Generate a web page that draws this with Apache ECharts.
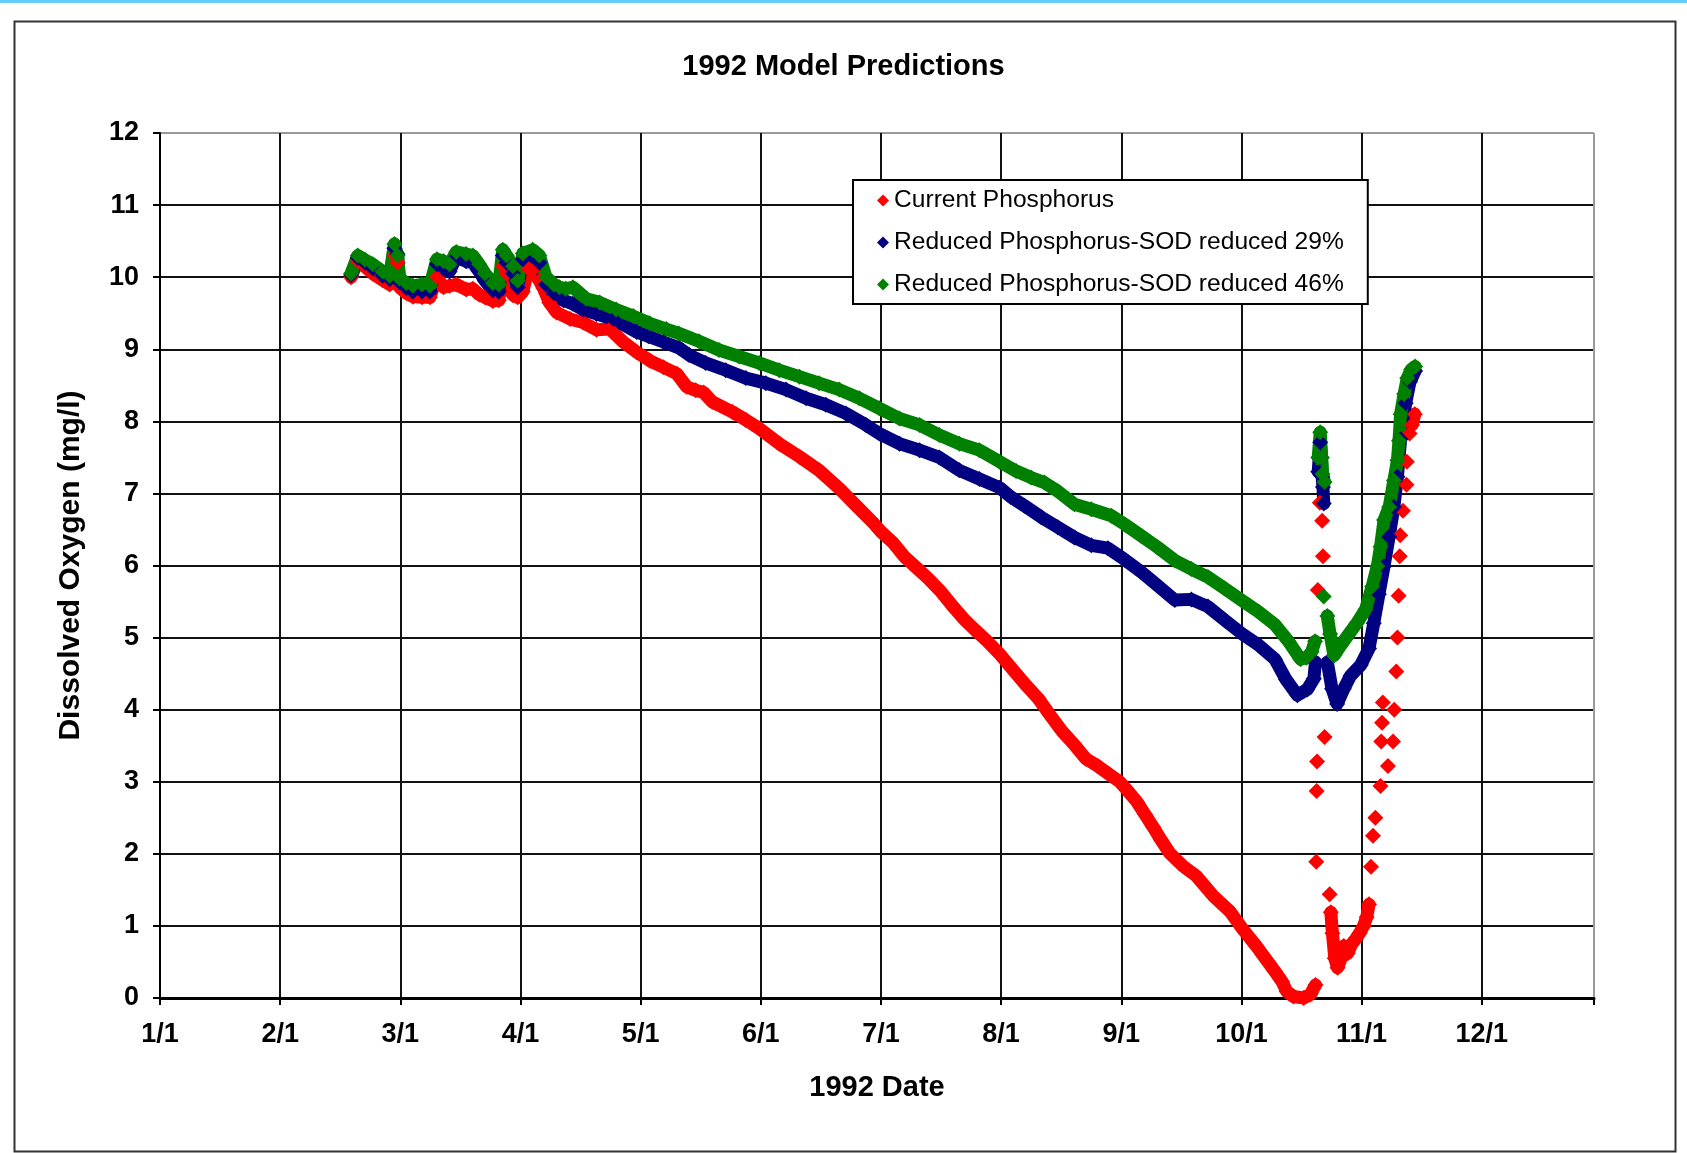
<!DOCTYPE html>
<html>
<head>
<meta charset="utf-8">
<style>
html,body{margin:0;padding:0;background:#ffffff;}
#chart{width:1687px;height:1153px;}
</style>
<script src="https://cdn.jsdelivr.net/npm/echarts@6.0.0/dist/echarts.min.js"></script>
</head>
<body>
<div id="chart"></div>
<script>
// ---- tick labels / names ----
const monthLabels = ['1/1','2/1','3/1','4/1','5/1','6/1','7/1','8/1','9/1','10/1','11/1','12/1'];
const seriesNames = ['Current Phosphorus','Reduced Phosphorus-SOD reduced 29%','Reduced Phosphorus-SOD reduced 46%'];
// x = day position on the chart's month scale (30.5 per month), y = DO (mg/l); null = gap
const currentPhosphorus = [
[48.5,10.0],[50.2,10.22],[52,10.15],[54,10.05],[56.5,9.96],[58.3,9.9],[59.5,10.3],[60.3,10.2],[60.8,9.86],[62.5,9.78],[64.2,9.73],[66.5,9.72],[68.5,9.72],[70.3,10.0],[72,9.86],[73.5,9.88],[75.2,9.9],[77.7,9.83],[79.4,9.84],[81,9.76],[82.5,9.72],[84.5,9.67],[86,9.68],[87,10.15],[88,10.05],[89.6,9.75],[90.8,9.72],[92.1,9.8],[93.5,10.12],[94.6,10.1],[96.3,9.95],[97.3,9.85],[98.8,9.65],[100.7,9.51],[104.1,9.42],[107.4,9.37],[110.8,9.27],[114.2,9.28],[117.6,9.1],[121,8.96],[124.4,8.84],[127.8,8.75],[131.2,8.66],[133.7,8.48],[136,8.43],[138,8.4],[140.2,8.27],[145.3,8.13],[148.7,8.02],[152.1,7.9],[157.2,7.69],[162.3,7.51],[167.3,7.32],[172.4,7.07],[176.7,6.83],[180.9,6.6],[183,6.47],[186,6.32],[189,6.12],[192,5.97],[195,5.82],[198,5.65],[201,5.45],[204,5.26],[207,5.1],[210,4.95],[213,4.78],[217,4.52],[220,4.33],[223,4.15],[226,3.92],[229,3.7],[232,3.52],[235,3.32],[238,3.22],[241,3.1],[243.6,3.0],[246,2.85],[248,2.72],[250,2.55],[252,2.38],[254,2.2],[256.3,2.01],[259.7,1.83],[263.1,1.69],[267.3,1.42],[271.6,1.2],[274.9,0.95],[278.3,0.72],[281,0.52],[283,0.37],[284.8,0.23],[286,0.09],[287.7,0.02],[290.3,0.0],[292,0.05],[293.3,0.18],
null,[293.5,1.89],null,[293.6,2.87],null,[293.7,3.28],null,[293.9,5.66],null,[294.3,7.5],null,[294.4,6.87],null,[295,6.62],null,[295.2,6.13],null,[295.6,3.62],null,[296.9,1.44],null,
[297.2,1.19],[297.6,0.9],[298.2,0.55],[298.9,0.42],[299.8,0.55],[300.5,0.72],[301.5,0.62],[302.5,0.75],[303.5,0.82],[304.5,0.9],[305.5,1.0],[306.3,1.12],[306.9,1.3],
null,[307.4,1.82],null,[307.9,2.25],null,[308.5,2.5],null,[309.8,2.94],null,[310,3.56],null,[310.2,3.82],null,[310.4,4.1],null,[311.7,3.22],null,[313,3.56],null,[313.3,4.0],null,[313.8,4.53],null,[314.1,5.0],null,[314.4,5.58],null,[314.7,6.13],null,[314.8,6.42],null,[315.5,6.76],null,[316.4,7.12],null,[316.5,7.44],null,[317.2,7.83],null,[317.8,7.95],[318.5,8.1]
];
const reducedSod29 = [
[48.5,10.03],[50.2,10.27],[52,10.2],[54,10.12],[56.5,10.02],[58.3,9.97],[59.5,10.4],[60.3,10.32],[60.8,9.93],[62.5,9.85],[64.2,9.8],[66.5,9.8],[68.5,9.8],[70.3,10.18],[72,10.12],[73.5,10.08],[75.2,10.28],[77.7,10.22],[79.4,10.2],[81,10.08],[82.5,9.95],[84.5,9.82],[86,9.8],[87,10.3],[88,10.2],[89.6,10.05],[90.8,9.86],[92.1,10.25],[94.6,10.3],[96.3,10.2],[98,9.9],[100,9.78],[102.4,9.68],[104.8,9.63],[107.4,9.55],[110.8,9.49],[115.1,9.42],[121,9.24],[124,9.18],[127.8,9.1],[131.7,9.02],[134.3,8.92],[138.5,8.81],[143.6,8.71],[148.7,8.6],[153.8,8.53],[158.9,8.44],[164,8.32],[169,8.23],[174.1,8.11],[179.2,7.95],[182.6,7.83],[187.7,7.69],[192.8,7.6],[197.8,7.5],[202.9,7.32],[208,7.2],[213.1,7.08],[216,6.95],[219.4,6.83],[223.7,6.67],[227.9,6.53],[232.1,6.39],[236.4,6.28],[240.6,6.24],[244.9,6.08],[249.1,5.91],[253.3,5.72],[257.6,5.52],[261.8,5.53],[266,5.43],[270.3,5.24],[274.5,5.06],[278.8,4.9],[283,4.7],[285.8,4.42],[288.7,4.2],[291.2,4.28],[292.9,4.43],[293.3,4.66],
null,[294.0,7.3],[294.5,7.71],[294.8,7.5],[295.0,7.23],[295.2,7.09],[295.4,6.86],null,
[296.3,4.66],[297.5,4.29],[298.8,4.08],[300.5,4.29],[302.2,4.47],[304.8,4.62],[306.9,4.85],[308.1,5.2],[309.4,5.6],[310.7,5.99],[312,6.4],[313.2,6.81],[314.1,7.23],[314.9,7.75],[316.2,8.25],[317.3,8.55],[318.6,8.7]
];
const reducedSod46 = [
[48.5,10.05],[50.2,10.3],[52,10.24],[54,10.18],[56.5,10.08],[58.3,10.02],[59.5,10.46],[60.3,10.3],[60.8,9.98],[62.5,9.92],[64.2,9.88],[66.5,9.9],[68.5,9.88],[70.3,10.25],[72,10.22],[73.5,10.18],[75.2,10.35],[77.7,10.32],[79.4,10.3],[81,10.18],[82.5,10.05],[84.5,9.92],[86,9.9],[87,10.38],[88,10.3],[89.6,10.15],[90.8,9.95],[92.1,10.33],[94.6,10.38],[96.3,10.3],[98,10.0],[100,9.9],[101.4,9.86],[103,9.84],[104.8,9.86],[106.5,9.78],[108.2,9.7],[111.6,9.65],[115.8,9.55],[120.1,9.46],[124.3,9.36],[128.5,9.28],[131.7,9.22],[136.8,9.11],[141.9,8.99],[147,8.9],[152.1,8.81],[157.2,8.71],[162.3,8.62],[167.3,8.53],[172.4,8.44],[177.5,8.32],[182.6,8.18],[187.7,8.04],[192.8,7.95],[197.8,7.81],[202.9,7.69],[208,7.6],[213.1,7.44],[217.3,7.31],[221.1,7.22],[224.5,7.15],[227.9,7.03],[232.1,6.85],[236.4,6.78],[241.5,6.69],[244.9,6.57],[249.1,6.41],[253.3,6.25],[257.6,6.07],[261.8,5.95],[266,5.84],[270.3,5.68],[274.5,5.52],[278.8,5.36],[283,5.18],[286.4,4.95],[289.5,4.7],[291,4.72],[292.3,4.8],[293.2,4.95],
null,[294.0,7.5],[294.5,7.85],[294.9,7.5],[295.1,7.27],[295.6,7.16],null,[295.4,5.57],null,
[296.3,5.3],[297.0,5.05],[298,4.75],[299.7,4.89],[301.4,5.02],[303.9,5.21],[306,5.39],[307.7,5.71],[309,5.99],[309.8,6.26],[310.7,6.63],[312,6.81],[313.2,7.18],[314.1,7.46],[314.5,7.73],[314.9,8.1],[315.8,8.38],[316.6,8.6],[317.6,8.72],[318.6,8.76]
];
const seriesColors = ['#FF0000','#000080','#008000'];

const toData = arr => arr.map(p => p === null ? ['-','-'] : p);
const MAIN_FONT = "'Liberation Sans',Arial,sans-serif";

const chart = echarts.init(document.getElementById('chart'), null, {renderer:'canvas'});
const allSeries = [currentPhosphorus, reducedSod29, reducedSod46].map((arr, i) => ({
  name: seriesNames[i],
  type: 'line',
  data: toData(arr),
  connectNulls: false,
  symbol: 'diamond',
  symbolSize: 16,
  showSymbol: true,
  itemStyle: {color: seriesColors[i]},
  lineStyle: {color: seriesColors[i], width: 13, cap: 'round', join: 'round'},
  emphasis: {disabled: true},
  animation: false
}));

const gridLineColors = Array(12).fill('#111111').concat(['#9a9a9a']);

chart.setOption({
  backgroundColor: '#ffffff',
  animation: false,
  title: {
    text: '1992 Model Predictions',
    left: 'center',
    top: 52,
    padding: 0,
    textStyle: {fontFamily: MAIN_FONT, fontWeight: 'bold', fontSize: 29, color: '#000'}
  },
  legend: {
    orient: 'vertical',
    left: 853,
    top: 180,
    padding: [8, 24, 7, 24],
    itemGap: 17,
    itemWidth: 12,
    itemHeight: 12,
    icon: 'diamond',
    borderColor: '#000',
    borderWidth: 2,
    backgroundColor: '#ffffff',
    selectedMode: false,
    textStyle: {fontFamily: MAIN_FONT, fontSize: 24.6, lineHeight: 24, color: '#000'},
    data: seriesNames
  },
  grid: {left: 160, right: 93, top: 133, bottom: 155, containLabel: false},
  xAxis: {
    type: 'value',
    min: 0, max: 364, interval: 30.5,
    name: '1992 Date',
    nameLocation: 'middle',
    nameGap: 75,
    nameTextStyle: {fontFamily: MAIN_FONT, fontWeight: 'bold', fontSize: 29, color: '#000'},
    axisLine: {show: true, lineStyle: {color: '#000', width: 3}},
    axisTick: {show: true, length: 7, lineStyle: {color: '#000', width: 2}},
    axisLabel: {
      margin: 23, color: '#000', fontFamily: MAIN_FONT, fontWeight: 'bold', fontSize: 27,
      formatter: v => monthLabels[Math.round(v / 30.5)] || ''
    },
    splitLine: {show: true, lineStyle: {color: gridLineColors, width: 2}}
  },
  yAxis: {
    type: 'value',
    min: 0, max: 12, interval: 1,
    name: 'Dissolved Oxygen (mg/l)',
    nameLocation: 'middle',
    nameGap: 74,
    nameTextStyle: {fontFamily: MAIN_FONT, fontWeight: 'bold', fontSize: 30, color: '#000'},
    axisLine: {show: true, lineStyle: {color: '#000', width: 2}},
    axisTick: {show: true, length: 7, lineStyle: {color: '#000', width: 2}},
    axisLabel: {margin: 21, color: '#000', fontFamily: MAIN_FONT, fontWeight: 'bold', fontSize: 27},
    splitLine: {show: true, lineStyle: {color: gridLineColors, width: 2}}
  },
  graphic: [
    {type: 'rect', left: 0, top: 0, shape: {width: 1687, height: 3}, style: {fill: '#66CCFF'}, silent: true},
    {type: 'rect', left: 12, top: 19, shape: {width: 1661, height: 1130}, style: {fill: 'none', stroke: '#333', lineWidth: 2}, silent: true, z: -1}
  ],
  series: allSeries
});
</script>
</body>
</html>
